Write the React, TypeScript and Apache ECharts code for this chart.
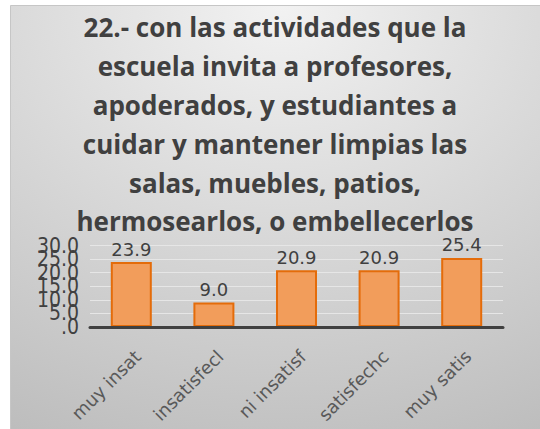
import React, { useEffect, useRef } from "react";
import * as echarts from "echarts";

const titleText =
  "22.- con las actividades que la\nescuela invita a profesores,\napoderados, y estudiantes a\ncuidar y mantener limpias las\nsalas, muebles, patios,\nhermosearlos, o embellecerlos";
const categories = ["muy insat", "insatisfecl", "ni insatisf", "satisfechc", "muy satis"];
const values = [23.9, 9.0, 20.9, 20.9, 25.4];
const yMin = 0;
const yMax = 30;
const yStep = 5;

const GRID_TOP = 245.5;
const GRID_BOTTOM = 102;
const H = 429;
const pxPerUnit = (H - GRID_BOTTOM - GRID_TOP) / (yMax - yMin);

export default function App() {
  const ref = useRef<HTMLDivElement>(null);
  useEffect(() => {
    document.body.style.margin = "0";
    const chart = echarts.init(ref.current!, null, { renderer: "svg" });
    const labelStyle = {
      fontFamily: "DejaVu Sans",
      fontSize: 18,
      color: "#404040",
    };
    const yLabelStyle = {
      fontFamily: "'DejaVu Sans Condensed', 'DejaVu Sans'",
      fontSize: 21,
      color: "#404040",
    };
    const fmt = (v: number) => (v === 0 ? ".0" : v.toFixed(1));
    chart.setOption({
      animation: false,
      graphic: [
        {
          type: "rect",
          z: -10,
          silent: true,
          shape: { x: 10.5, y: 5.5, width: 540, height: 430 },
          style: {
            fill: new echarts.graphic.RadialGradient(0.5, 0, 1.1, [
              { offset: 0, color: "#f2f2f2" },
              { offset: 1, color: "#bdbdbd" },
            ]),
            stroke: "#c6c6c6",
            lineWidth: 1,
          },
        },
      ],
      title: {
        text: titleText,
        left: 270,
        top: 3,
        textAlign: "center",
        textStyle: {
          fontFamily: "Open Sans",
          fontWeight: "bold",
          fontSize: 26,
          lineHeight: 38.8,
          color: "#404040",
        },
      },
      grid: [
        { left: 90, right: 37, top: GRID_TOP, bottom: GRID_BOTTOM, containLabel: false },
        {
          left: 90,
          right: 37,
          top: GRID_TOP + yStep * pxPerUnit,
          bottom: GRID_BOTTOM + yStep * pxPerUnit,
          containLabel: false,
        },
      ],
      xAxis: [
        {
          type: "category",
          data: categories,
          gridIndex: 0,
          axisLine: { show: true, lineStyle: { color: "#404040", width: 3 } },
          axisTick: { show: false },
          z: 5,
          axisLabel: {
            rotate: 45,
            margin: 20,
            verticalAlign: "top",
            fontFamily: "DejaVu Sans",
            fontSize: 18,
            color: "#595959",
          },
        },
        {
          type: "category",
          data: categories,
          gridIndex: 1,
          show: false,
        },
      ],
      yAxis: [
        {
          type: "value",
          gridIndex: 0,
          min: yMin,
          max: yMax,
          interval: yStep * 2,
          axisLine: { show: false },
          axisTick: { show: false },
          splitLine: { show: true, lineStyle: { color: "#e6e6e6", width: 1 } },
          axisLabel: { margin: 11, showMinLabel: true, showMaxLabel: true, ...yLabelStyle, formatter: fmt },
        },
        {
          type: "value",
          gridIndex: 1,
          min: yMin + yStep,
          max: yMax - yStep,
          interval: yStep * 2,
          axisLine: { show: false },
          axisTick: { show: false },
          splitLine: { show: true, lineStyle: { color: "#e6e6e6", width: 1 } },
          axisLabel: { margin: 11, showMinLabel: true, showMaxLabel: true, ...yLabelStyle, formatter: fmt },
        },
      ],
      series: [
        {
          type: "bar",
          data: values,
          xAxisIndex: 0,
          yAxisIndex: 0,
          z: 3,
          barWidth: 41,
          itemStyle: { color: "#f29d5b", borderColor: "#e46c0a", borderWidth: 2 },
          label: {
            show: true,
            position: "top",
            distance: 4,
            ...labelStyle,
            formatter: (p: any) => p.value.toFixed(1),
          },
        },
      ],
    });
    return () => chart.dispose();
  }, []);
  return <div ref={ref} style={{ width: 540, height: H }} />;
}
